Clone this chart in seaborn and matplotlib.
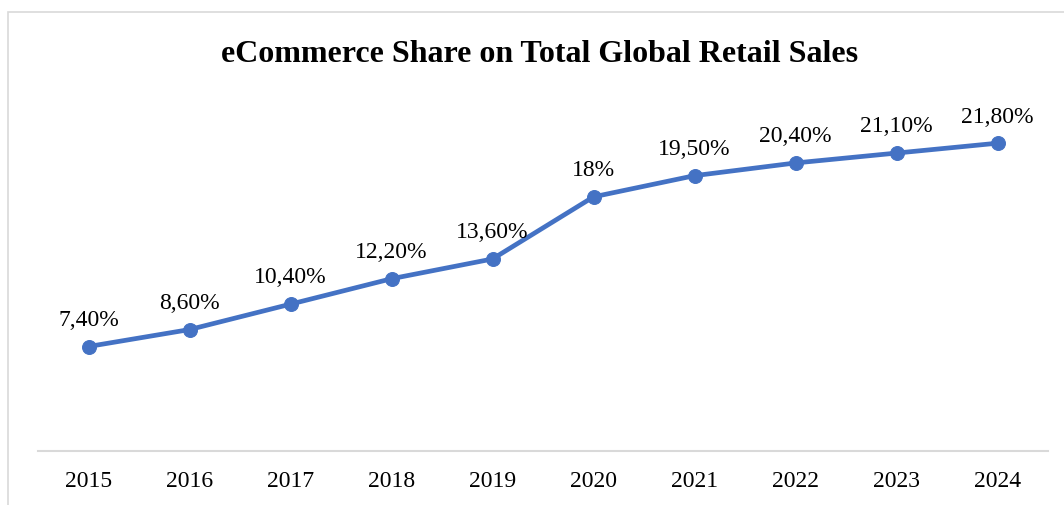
import matplotlib
matplotlib.use("Agg")
import matplotlib.pyplot as plt
import seaborn as sns
import pandas as pd
from matplotlib.patches import Rectangle

years = ["2015", "2016", "2017", "2018", "2019", "2020", "2021", "2022", "2023", "2024"]
share = [7.4, 8.6, 10.4, 12.2, 13.6, 18.0, 19.5, 20.4, 21.1, 21.8]
labels = ["7,40%", "8,60%", "10,40%", "12,20%", "13,60%", "18%", "19,50%", "20,40%", "21,10%", "21,80%"]

sns.set_style("white")
plt.rcParams["font.family"] = ["Liberation Serif", "DejaVu Serif"]

df = pd.DataFrame({"year": years, "share": share})

fig = plt.figure(figsize=(10.64, 5.06), dpi=100)
ax = fig.add_axes([38 / 1064, 54 / 506, 1010 / 1064, 353 / 506])

blue = "#4472C4"
sns.lineplot(data=df, x="year", y="share", ax=ax, color=blue, linewidth=3.4,
             marker="o", markersize=10, markeredgecolor=blue, sort=False)

for i, (v, t) in enumerate(zip(share, labels)):
    ax.annotate(t, (i, v), xytext=(0, 12), textcoords="offset points",
                ha="center", va="bottom", fontsize=17, color="#000000")

ax.set_xlim(-0.5, len(years) - 0.5)
ax.set_ylim(0, 25)
ax.set_xlabel("")
ax.set_ylabel("")
ax.set_yticks([])
ax.tick_params(axis="x", length=0, labelsize=17, pad=14, colors="#000000")
for side in ["top", "right", "left"]:
    ax.spines[side].set_visible(False)
ax.spines["bottom"].set_color("#D9D9D9")
ax.spines["bottom"].set_linewidth(1.5)

fig.text(540 / 1064, 1 - 55 / 506, "eCommerce Share on Total Global Retail Sales",
         ha="center", va="center", fontsize=23, fontweight="bold", color="#000000")

# chart frame
fig.patches.append(Rectangle((7.5 / 1064, -0.1), 1.2, 1 - 12.5 / 506 + 0.1,
                             transform=fig.transFigure, fill=False,
                             edgecolor="#D9D9D9", linewidth=1.2))

fig.savefig("out.png", dpi=100)
